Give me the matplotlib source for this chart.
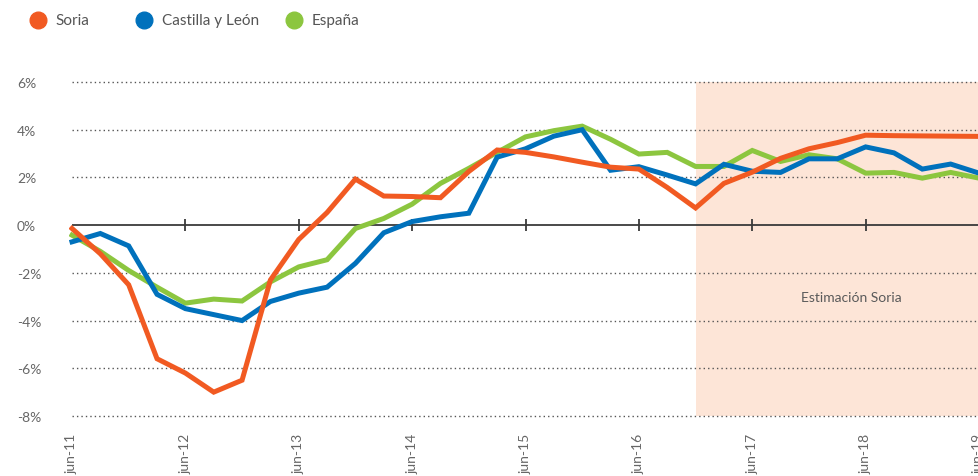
import matplotlib
matplotlib.use("Agg")
import matplotlib.pyplot as plt
from matplotlib.lines import Line2D

plt.rcParams['font.family'] = ['Lato', 'DejaVu Sans']

# ---- data (quarterly, jun-11 .. jun-19) ----
tick_labels = ["jun-11", "jun-12", "jun-13", "jun-14", "jun-15",
               "jun-16", "jun-17", "jun-18", "jun-19"]
quarters = list(range(33))
soria = [-0.14, -1.2, -2.5, -5.6, -6.2, -7.0, -6.5, -2.3, -0.6, 0.53, 1.93, 1.22,
         1.2, 1.15, 2.25, 3.15, 3.05, 2.86, 2.64, 2.43, 2.35, 1.58, 0.72, 1.75,
         2.22, 2.8, 3.2, 3.46, 3.77, 3.75, 3.74, 3.73, 3.72]
castilla = [-0.7, -0.35, -0.87, -2.9, -3.5, -3.75, -4.0, -3.2, -2.85, -2.6, -1.6, -0.32,
            0.15, 0.35, 0.5, 2.85, 3.2, 3.73, 4.0, 2.3, 2.45, 2.1, 1.73, 2.55,
            2.26, 2.21, 2.78, 2.78, 3.28, 3.03, 2.35, 2.56, 2.18]
espana = [-0.42, -1.1, -1.9, -2.6, -3.27, -3.1, -3.18, -2.38, -1.75, -1.45, -0.14, 0.28,
          0.88, 1.75, 2.38, 3.05, 3.7, 3.96, 4.15, 3.6, 2.98, 3.05, 2.46, 2.46,
          3.13, 2.67, 2.95, 2.78, 2.18, 2.21, 1.97, 2.21, 1.97]
series_names = ["Soria", "Castilla y León", "España"]
y_ticks = [6, 4, 2, 0, -2, -4, -6, -8]
estimate_start = 22
estimate_end = 32
estimate_label = "Estimación Soria"

colors = ["#F15A22", "#0071BC", "#8CC63F"]

W, H = 979, 477
fig = plt.figure(figsize=(W / 100, H / 100), dpi=100)

# axes geometry in pixels
x0_px, x0_val = 72, 0.0
px_per_q = (979 - 72) / 32
y_top_px, y_bot_px = 83, 417
px_per_pct = (y_bot_px - y_top_px) / 14.0
xmin, xmax = -0.12, 32
ymin, ymax = -8.12, 6.12
left = x0_px + (xmin - x0_val) * px_per_q
right = W
top = y_top_px - (ymax - 6) * px_per_pct
bottom = y_bot_px + (-8 - ymin) * px_per_pct
ax = fig.add_axes([left / W, 1 - bottom / H, (right - left) / W, (bottom - top) / H])
ax.set_xlim(xmin, xmax)
ax.set_ylim(ymin, ymax)
for s in ax.spines.values():
    s.set_visible(False)

# estimate shading
ax.fill_between([estimate_start, estimate_end], -8, 6, color="#FDE5D7", lw=0, zorder=0)

# grid lines
for yv in y_ticks:
    if yv == 0:
        ax.hlines(0, 0, 32, color="#3a3a3a", lw=1.3, zorder=1)
    else:
        ax.hlines(yv, 0, 32, color="#555555", lw=1.0, linestyles=(0, (1, 2.2)), zorder=1)
# year tick marks on zero line
ax.plot(list(range(4, 32, 4)), [0] * 7, linestyle="none", marker="|", ms=8,
        mew=1.3, color="#3a3a3a", zorder=1)

# lines
ax.plot(quarters, espana, color=colors[2], lw=3.6, zorder=3, solid_joinstyle="miter")
ax.plot(quarters, castilla, color=colors[1], lw=3.6, zorder=4, solid_joinstyle="miter")
ax.plot(quarters, soria, color=colors[0], lw=3.6, zorder=5, solid_joinstyle="miter")

ax.text((estimate_start + estimate_end) / 2 + 0.5, -3.0, estimate_label, ha="center",
        va="center", fontsize=10, color="#5a5a5a", zorder=6)

# y tick labels (left aligned at x = 17 px)
ax.set_yticks(y_ticks)
ax.set_yticklabels([f"{v}%" for v in y_ticks], ha="left", fontsize=10, color="#666666")
ax.tick_params(axis="y", length=0, pad=(left - 17) * 0.72)

# x tick labels
ax.set_xticks(list(range(0, 33, 4)))
ax.set_xticklabels(tick_labels, rotation=90, va="top", ha="center", fontsize=10,
                   color="#666666")
ax.tick_params(axis="x", length=0, pad=(434 - bottom) * 0.72)

# legend
leg_items = [(38, 55), (144, 162), (294, 312)]
for (cx, tx), name, c in zip(leg_items, series_names, colors):
    fig.add_artist(Line2D([cx / W], [1 - 21 / H], marker="o", ms=12, color=c,
                          mec=c, linestyle="none", transform=fig.transFigure))
    fig.text(tx / W, 1 - 21 / H, name, ha="left", va="center", fontsize=11,
             color="#555555")

fig.savefig("out.png", dpi=100)
